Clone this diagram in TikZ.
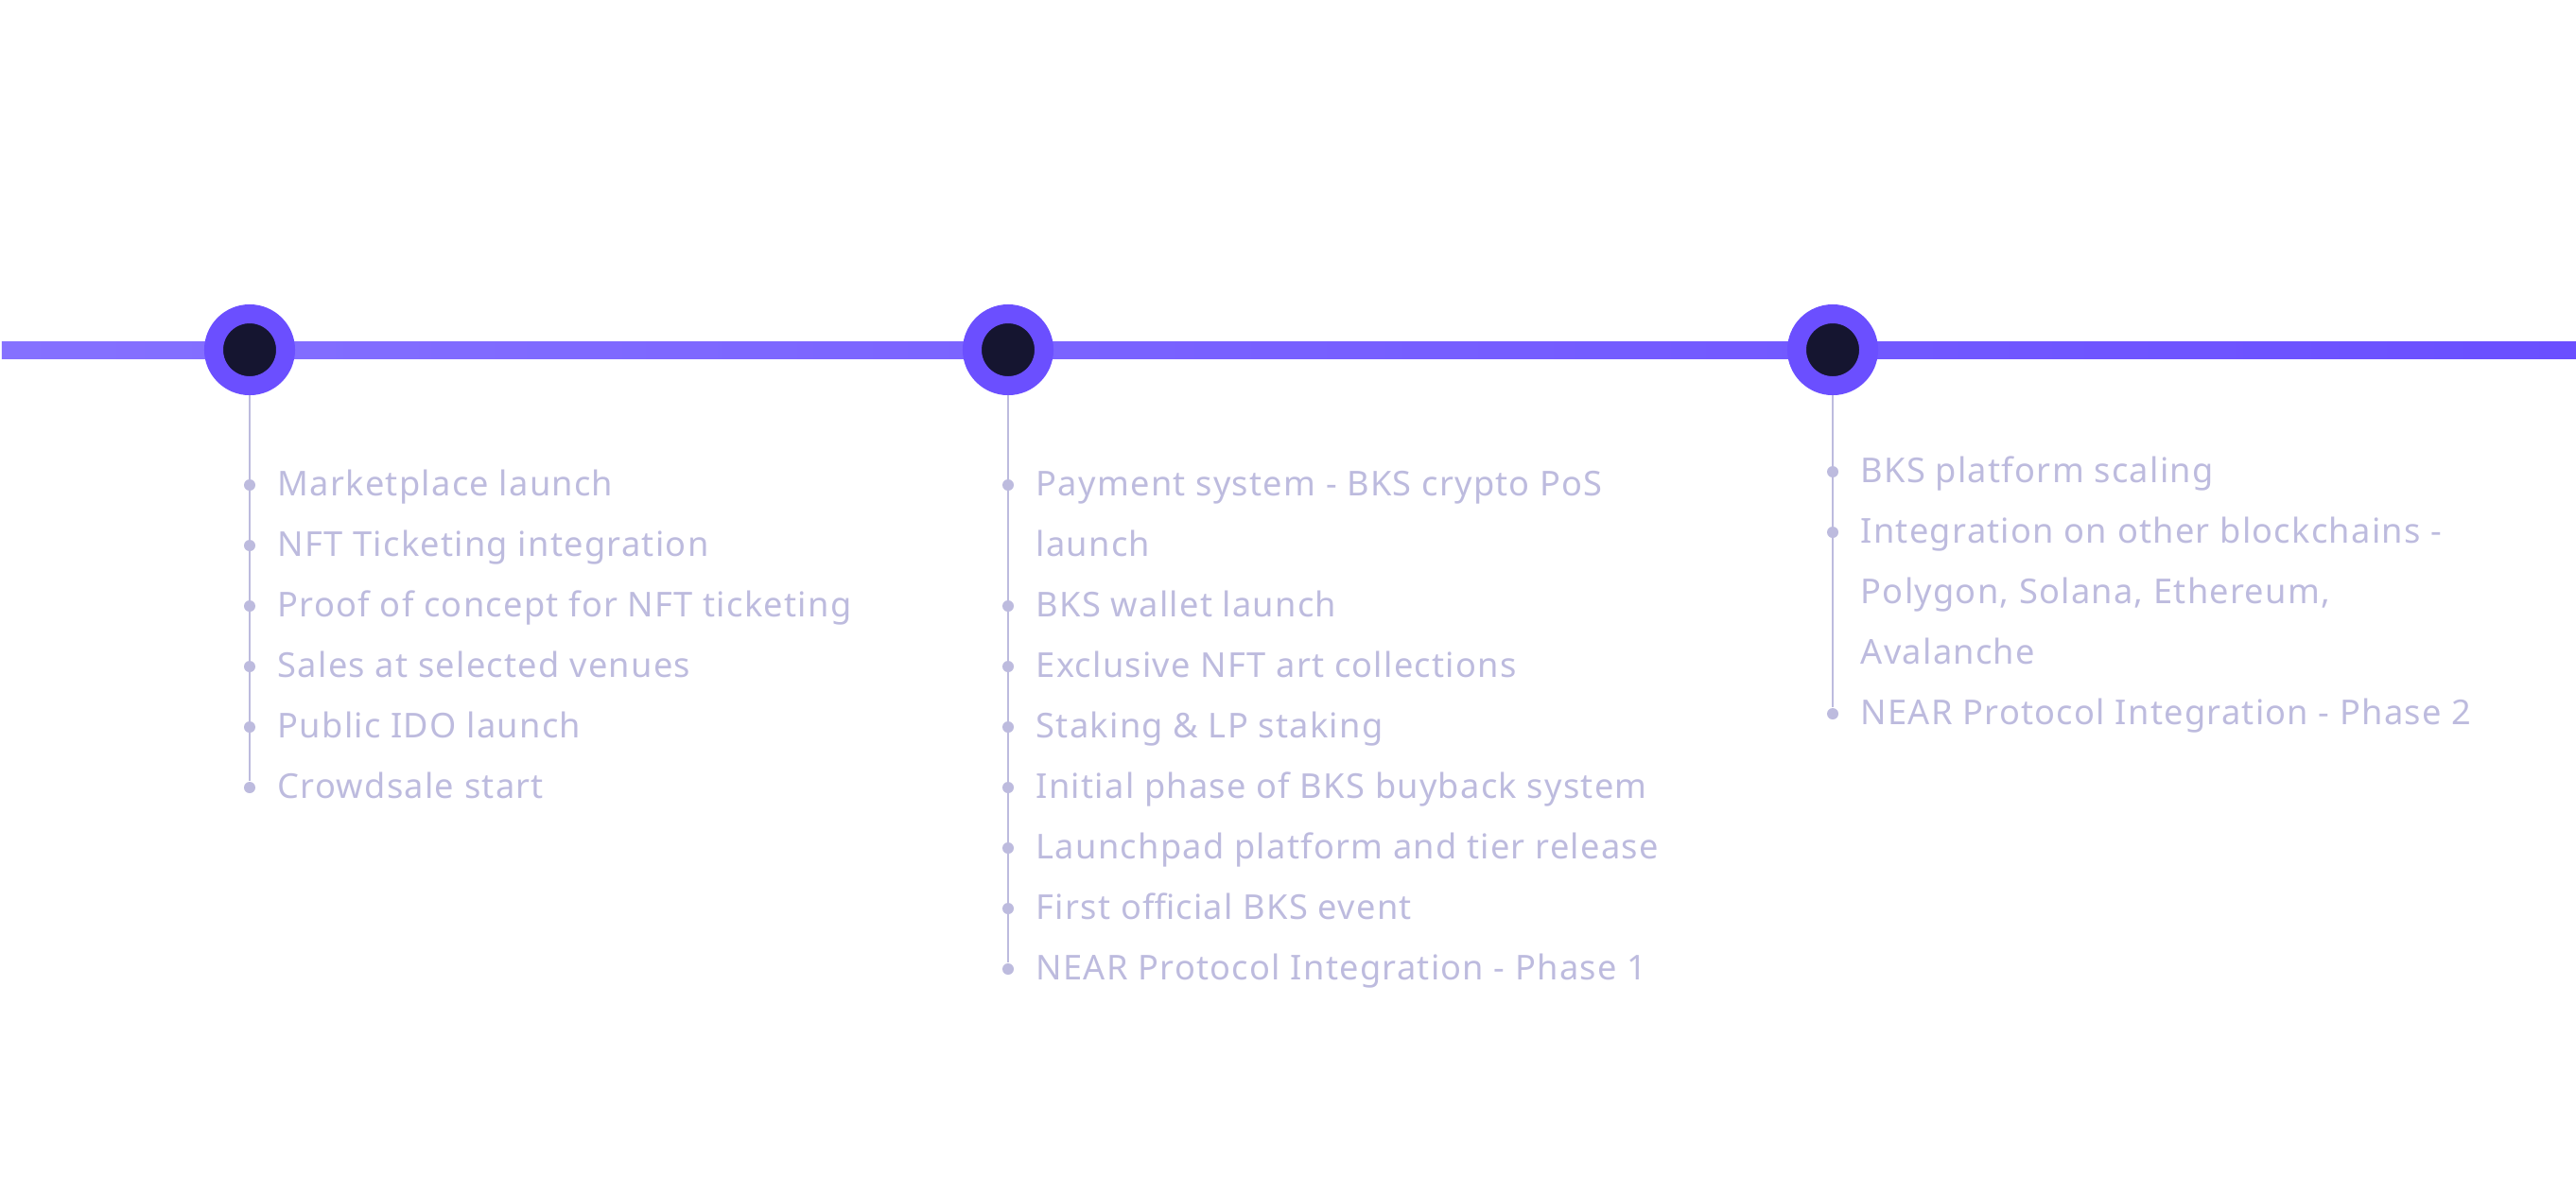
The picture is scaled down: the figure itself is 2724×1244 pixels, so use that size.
\documentclass[tikz,border=0pt]{standalone}
\usepackage{fontspec}
\setmainfont{Noto Sans}[LetterSpace=3.5]
\usetikzlibrary{positioning}
\definecolor{ringpurple}{HTML}{6B4FFF}
\definecolor{linestart}{HTML}{8571FF}
\definecolor{lineend}{HTML}{6A4FFF}
\definecolor{corenavy}{HTML}{151530}
\definecolor{itemgrey}{HTML}{BDBBDE}
\tikzset{
  milestone/.style = {circle, fill=corenavy, draw=ringpurple, line width=0.2cm,
    minimum size=0.76cm, inner sep=0pt},% ring with dark core
  dot/.style = {circle, fill=itemgrey, minimum size=0.12cm, inner sep=0pt},
  item/.style = {anchor=mid west, inner sep=0pt, text=itemgrey,
    font=\fontsize{10.3pt}{12pt}\selectfont},
  stem/.style = {draw=itemgrey, line width=0.02cm}
}

\begin{document}
\begin{tikzpicture}[x=0.01cm,y=-0.01cm]
\useasboundingbox (0,0) rectangle (2724,1244);
% main bar
\shade[left color=linestart, right color=lineend] (2,361) rectangle (2724,379);
\node[milestone] (m1) at (264,370) {};
\node[milestone] (m2) at (1066,370) {};
\node[milestone] (m3) at (1938,370) {};
% first column
\foreach \i/\t in {1/Marketplace launch, 2/NFT Ticketing integration,
    3/Proof of concept for NFT ticketing, 4/Sales at selected venues,
    5/Public IDO launch, 6/Crowdsale start} {
  \node[dot] (a\i) at (264,449+64*\i) {};
  \node[item] (ta\i) at (293,451+64*\i) {\t};
}
\draw[stem] (m1) -- (a6);
% second column
\foreach \i/\t in {1/Payment system - BKS crypto PoS, 3/BKS wallet launch,
    4/Exclusive NFT art collections, 5/Staking \& LP staking,
    6/Initial phase of BKS buyback system, 7/Launchpad platform and tier release,
    8/First official BKS event, 9/NEAR Protocol Integration - Phase 1} {
  \node[dot] (b\i) at (1066,449+64*\i) {};
  \node[item] (tb\i) at (1095,451+64*\i) {\t};
}
\node[item] (tb2) at (1095,579) {launch};
\draw[stem] (m2) -- (b9);
% third column
\foreach \i/\t in {1/BKS platform scaling, 2/Integration on other blockchains -,
    5/NEAR Protocol Integration - Phase 2} {
  \node[dot] (c\i) at (1938,435+64*\i) {};
  \node[item] (tc\i) at (1967,437+64*\i) {\t};
}
\node[item] (tc3) at (1967,629) {Polygon, Solana, Ethereum,};
\node[item] (tc4) at (1967,693) {Avalanche};
\draw[stem] (m3) -- (c5);
\end{tikzpicture}
\end{document}
